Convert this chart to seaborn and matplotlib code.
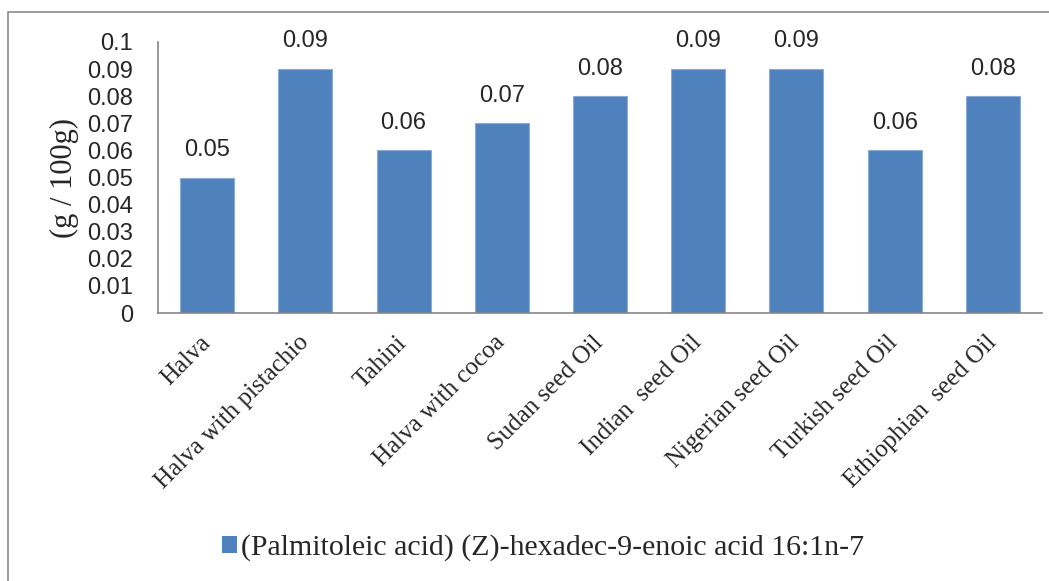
import matplotlib
matplotlib.use("Agg")
import matplotlib.pyplot as plt
import seaborn as sns
import pandas as pd
from matplotlib.patches import Rectangle

# Palmitoleic acid content per sample (g / 100g)
categories = ["Halva", "Halva with pistachio", "Tahini", "Halva with cocoa",
              "Sudan seed Oil", "Indian  seed Oil", "Nigerian seed Oil",
              "Turkish seed Oil", "Ethiophian  seed Oil"]
values = [0.05, 0.09, 0.06, 0.07, 0.08, 0.09, 0.09, 0.06, 0.08]
series_name = "(Palmitoleic acid) (Z)-hexadec-9-enoic acid 16:1n-7"
y_ticks = [0, 0.01, 0.02, 0.03, 0.04, 0.05, 0.06, 0.07, 0.08, 0.09, 0.1]
y_tick_labels = ["0", "0.01", "0.02", "0.03", "0.04", "0.05", "0.06",
                 "0.07", "0.08", "0.09", "0.1"]

sns.set_theme(style="white")
plt.rcParams["font.family"] = ["Liberation Sans", "DejaVu Sans"]

df = pd.DataFrame({"sample": categories, "value": values, "series": series_name})

W, H = 1049, 581
fig = plt.figure(figsize=(W / 100, H / 100), dpi=100)
ax = fig.add_axes([158 / W, 1 - 313 / H, (1042 - 158) / W, (313 - 42) / H])

bar_color = "#4F81BD"
sns.barplot(data=df, x="sample", y="value", hue="series", palette=[bar_color],
            saturation=1, width=0.55, ax=ax, legend=False,
            edgecolor="#8AADD8", linewidth=0.8)

ax.set_ylim(0, 0.1)
ax.set_xlim(-0.5, len(categories) - 0.5)
ax.set_yticks(y_ticks)
ax.set_yticklabels(y_tick_labels, fontsize=17)
ax.tick_params(axis="y", length=0, pad=18)
ax.set_xlabel("")
ax.set_ylabel("(g / 100g)", family=["Liberation Serif"], fontsize=22, labelpad=6)

ax.set_xticks(range(len(categories)))
ax.set_xticklabels(categories, rotation=45, ha="right", va="center",
                   rotation_mode="anchor", family=["Liberation Serif"], fontsize=18)
ax.tick_params(axis="x", length=0, pad=19)

for side in ["top", "right"]:
    ax.spines[side].set_visible(False)
for side in ["left", "bottom"]:
    ax.spines[side].set_color("#868686")
    ax.spines[side].set_linewidth(1.2)

for cont in ax.containers:
    ax.bar_label(cont, labels=[f"{v:.2f}" for v in values], padding=12, fontsize=17)

# Legend below the plot
handle = Rectangle((0, 0), 1, 1, facecolor=bar_color, edgecolor="none")
fig.legend([handle], [series_name], loc="center", bbox_to_anchor=(543 / W, 1 - 548 / H),
           frameon=False, prop={"family": "Liberation Serif", "size": 21.5},
           handlelength=0.5, handleheight=0.5, handletextpad=0.15)

# Chart frame
fig.patches.append(Rectangle((8 / W, -0.05), 1.1, 1 - 12 / H + 0.05,
                             transform=fig.transFigure, fill=False,
                             edgecolor="#8C8C8C", linewidth=1.2))

fig.savefig("out.png", dpi=100)
